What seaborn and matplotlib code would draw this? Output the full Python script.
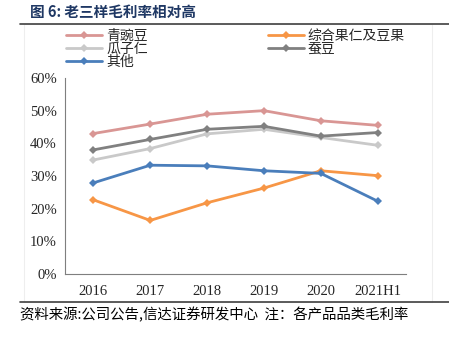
import matplotlib
matplotlib.use("Agg")
import matplotlib.pyplot as plt
from matplotlib.lines import Line2D
from matplotlib.patches import Rectangle
import seaborn as sns
import pandas as pd

# Gross margin by product line (%)
periods = ["2016", "2017", "2018", "2019", "2020", "2021H1"]
pea = [43.0, 45.9, 48.9, 50.0, 46.9, 45.5]
mixed_nuts = [22.7, 16.4, 21.8, 26.3, 31.6, 30.1]
seeds = [34.9, 38.4, 42.9, 44.3, 41.8, 39.4]
broad_bean = [38.0, 41.2, 44.3, 45.2, 42.2, 43.3]
others = [27.9, 33.3, 33.1, 31.6, 30.8, 22.3]

series_names = ["青豌豆", "综合果仁及豆果", "瓜子仁", "蚕豆", "其他"]
series_values = [pea, mixed_nuts, seeds, broad_bean, others]
colors = ["#D99694", "#F79646", "#C9C9C9", "#808080", "#4A7EBB"]

rows = []
for name, vals in zip(series_names, series_values):
    for p, v in zip(periods, vals):
        rows.append({"period": p, "series": name, "value": v})
df = pd.DataFrame(rows)

sns.set_theme(style="white")
plt.rcParams["font.family"] = ["Noto Sans CJK SC", "DejaVu Sans"]

fig = plt.figure(figsize=(4.49, 3.42), dpi=100)
ax = fig.add_axes([0.1448, 0.1988, 0.7595, 0.5732])

sns.lineplot(data=df, x="period", y="value", hue="series",
             hue_order=series_names, palette=colors, marker="D",
             markersize=4.5, markeredgewidth=0, linewidth=2.0,
             sort=False, ax=ax, legend=False)

ax.set_xlim(-0.5, len(periods) - 0.5)
ax.set_ylim(0, 60)
ax.set_yticks(range(0, 61, 10))
ax.set_yticklabels([f"{v}%" for v in range(0, 61, 10)],
                   family="Liberation Serif", fontsize=10.5)
ax.set_xticks(range(len(periods)))
ax.set_xticklabels(periods, family="Liberation Serif", fontsize=10.5)
ax.set_xlabel("")
ax.set_ylabel("")
ax.set_xticks([i + 0.5 for i in range(-1, len(periods))], minor=True)
ax.tick_params(axis="x", which="major", length=0, pad=8)
ax.tick_params(axis="x", which="minor", direction="in", length=4,
               color="#7F7F7F", width=0.8)
ax.tick_params(axis="y", direction="in", length=3, color="#7F7F7F",
               width=0.8, pad=6)
for side in ["top", "right"]:
    ax.spines[side].set_visible(False)
for side in ["left", "bottom"]:
    ax.spines[side].set_color("#7F7F7F")
    ax.spines[side].set_linewidth(0.8)

# Legend in two columns (filled column by column), above the plotting area
handles = [Line2D([0], [0], color=c, lw=2.0, marker="D", markersize=4.5,
                  markeredgewidth=0) for c in colors]
order = [0, 2, 4, 1, 3]
fig.legend([handles[i] for i in order], [series_names[i] for i in order],
           loc="upper left", bbox_to_anchor=(0.135, 0.932), ncol=2,
           frameon=False, fontsize=10, handlelength=2.6, handletextpad=0.3,
           columnspacing=8.6, labelspacing=-0.08, borderaxespad=0)

# Title, rules and footnote
fig.text(0.067, 0.965, "图 6: 老三样毛利率相对高", fontsize=10.5,
         fontweight="bold", color="#1F3864", va="center", ha="left")
fig.add_artist(Line2D([0.045, 1.0], [0.930, 0.930], color="#404040",
                      lw=1.2, transform=fig.transFigure))
fig.add_artist(Line2D([0.045, 1.0], [0.117, 0.117], color="#404040",
                      lw=1.2, transform=fig.transFigure))
fig.add_artist(Rectangle((0.053, 0.117), 0.909, 0.813, fill=False,
                         edgecolor="#EEEEEE", lw=0.8,
                         transform=fig.transFigure))
fig.text(0.045, 0.080, "资料来源:公司公告,信达证券研发中心  注：各产品品类毛利率",
         fontsize=10.4, color="#000000", va="center", ha="left")

fig.savefig("out.png", dpi=100)
